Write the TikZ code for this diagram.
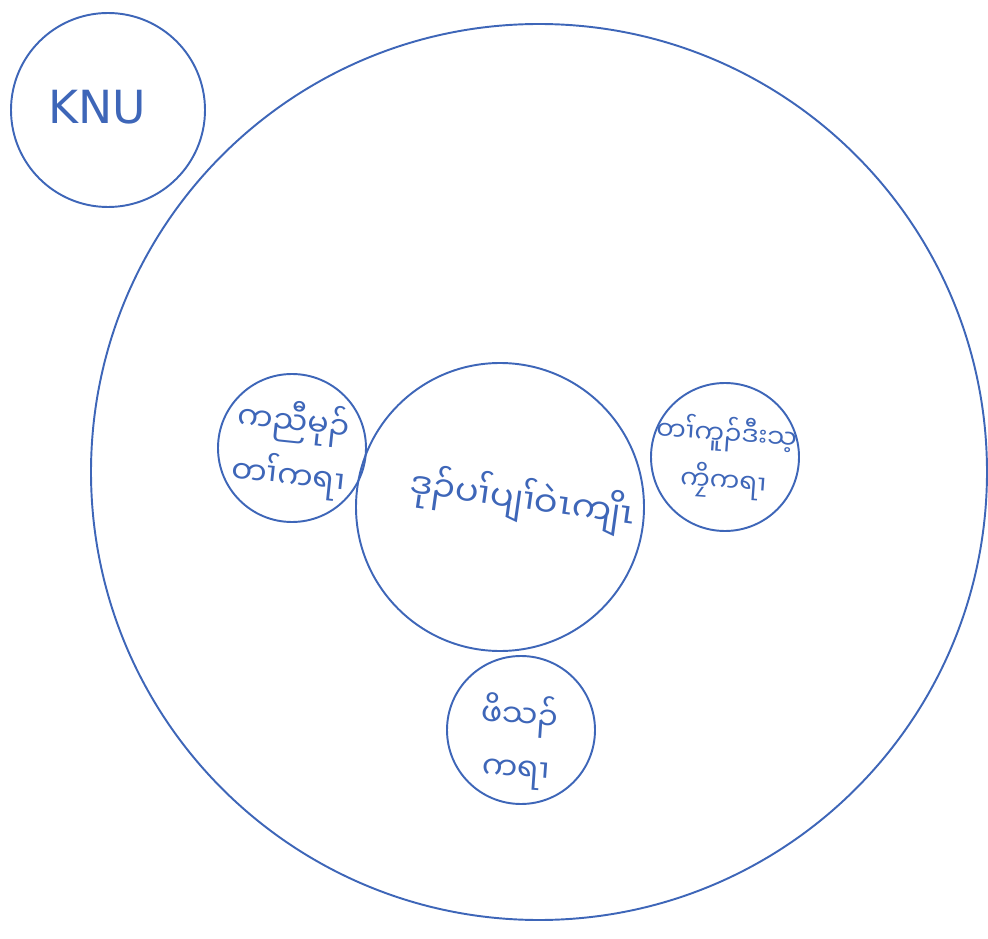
\documentclass[tikz,border=0pt]{standalone}
\usepackage{fontspec}
\newfontfamily\karen[Script=Myanmar]{Noto Sans Myanmar UI}
\newfontfamily\hand{DejaVu Sans}
\usetikzlibrary{positioning}
\definecolor{pen}{RGB}{62,102,184}

\begin{document}
\begin{tikzpicture}[
    x=0.02cm, y=-0.02cm,
    ring/.style={circle, draw=pen, line width=1.1pt, inner sep=0pt},
    small/.style={ring, minimum size=148*0.02cm},
    script/.style={text=pen, align=center, inner sep=1pt, font=\karen\fontsize{18}{22}\selectfont}
]
\useasboundingbox (0,0) rectangle (988,939);

% circles
\node[ring, minimum size=896*0.02cm] (area) at (539,472) {};
\node[ring, minimum size=194*0.02cm, text=pen, font=\hand\fontsize{26}{30}\selectfont] (knu) at (108,110) {\raisebox{4pt}{\hspace{-12pt}KNU}};
\node[ring, minimum size=288*0.02cm] (hq) at (500,507) {};
\node[small] (kwo) at (292,448) {};
\node[small] (edu) at (725,457) {};
\node[small] (youth) at (521,730) {};

% handwritten labels
\node[script, rotate=-8, font=\karen\fontsize{20}{24}\selectfont] (hqtext) at (522,500) {ဒုၣ်ပၢ်ပျၢ်ဝဲၤကျိၤ};
\node[script, rotate=-6] (kwotext) at (291,449) {ကညီမုၣ်\\[6pt]တၢ်ကရၢ};
\node[script, rotate=-4, font=\karen\fontsize{15}{19}\selectfont] (edutext) at (725,458) {တၢ်ကူၣ်ဒီးသ့\\[6pt]ကၠိကရၢ};
\node[script, rotate=-4] (youthtext) at (518,742) {ဖိသၣ်\\[8pt]ကရၢ};
\end{tikzpicture}
\end{document}
